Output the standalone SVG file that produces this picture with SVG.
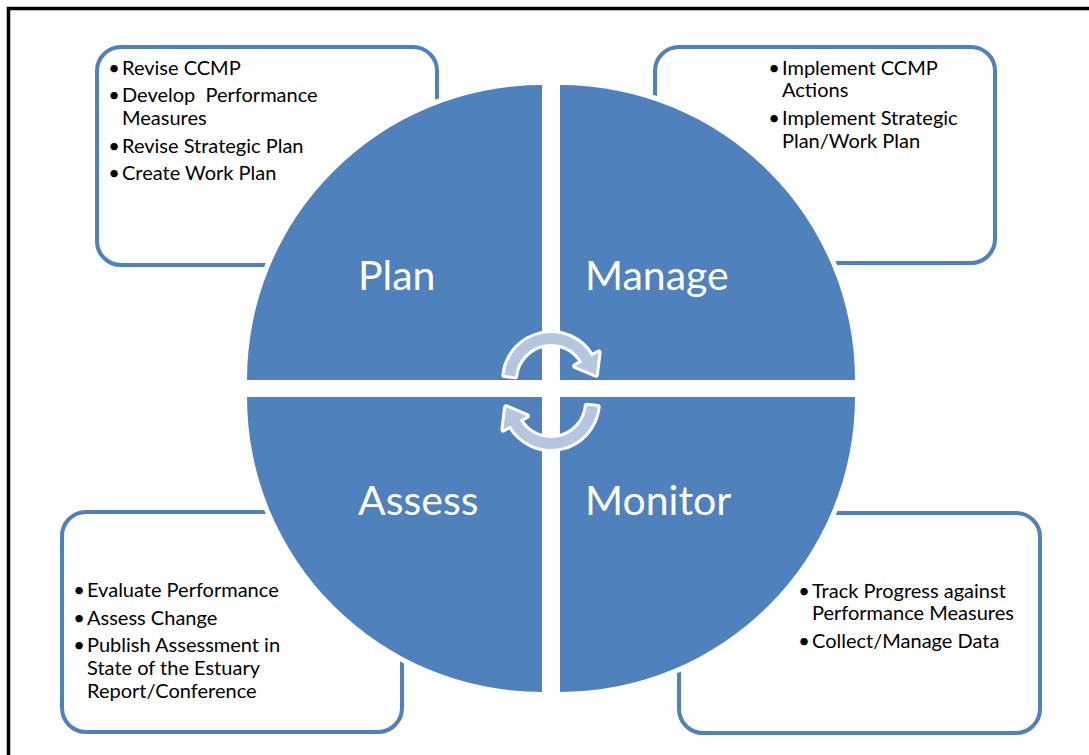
<svg xmlns="http://www.w3.org/2000/svg" width="1089" height="755" viewBox="0 0 1089 755">
<style>
.box{fill:#fff;stroke:#4F81BD;stroke-width:4}
.q{fill:#4F81BD;stroke:#fff;stroke-width:10;paint-order:stroke}
.t{font-family:Lato,"Open Sans",sans-serif;font-size:20px;fill:#000}
.b{font-family:Lato,"Open Sans",sans-serif;font-size:20px;fill:#000;text-anchor:middle}
.lbl{font-family:Lato,"Open Sans",sans-serif;font-size:41px;fill:#fff}
.arr{fill:#B7C6E0;stroke:#fff;stroke-width:6;stroke-linejoin:round;paint-order:stroke}
</style>
<rect x="0" y="0" width="1089" height="755" fill="#fff"/>
<rect x="8.5" y="8.5" width="1100" height="770" fill="none" stroke="#000" stroke-width="3.5"/>

<g id="box-plan">
<rect class="box" x="97" y="47" width="340" height="218" rx="24"/>
<text class="b" x="114" y="75">•</text><text class="t" x="122" y="75">Revise CCMP</text>
<text class="b" x="114" y="102">•</text><text class="t" x="122" y="102" xml:space="preserve">Develop  Performance</text>
<text class="t" x="122" y="125">Measures</text>
<text class="b" x="114" y="153">•</text><text class="t" x="122" y="153">Revise Strategic Plan</text>
<text class="b" x="114" y="180">•</text><text class="t" x="122" y="180">Create Work Plan</text>
</g>
<g id="box-manage">
<rect class="box" x="655" y="47" width="340" height="216" rx="24"/>
<text class="b" x="774" y="75">•</text><text class="t" x="782" y="75">Implement CCMP</text>
<text class="t" x="782" y="97">Actions</text>
<text class="b" x="774" y="125">•</text><text class="t" x="782" y="125">Implement Strategic</text>
<text class="t" x="782" y="148">Plan/Work Plan</text>
</g>
<g id="box-assess">
<rect class="box" x="62" y="512" width="340" height="220" rx="24"/>
<text class="b" x="79" y="597">•</text><text class="t" x="87" y="597">Evaluate Performance</text>
<text class="b" x="79" y="625">•</text><text class="t" x="87" y="625">Assess Change</text>
<text class="b" x="79" y="652">•</text><text class="t" x="87" y="652">Publish Assessment in</text>
<text class="t" x="87" y="675">State of the Estuary</text>
<text class="t" x="87" y="698">Report/Conference</text>
</g>
<g id="box-monitor">
<rect class="box" x="679" y="513" width="361" height="220" rx="24"/>
<text class="b" x="804" y="598">•</text><text class="t" x="812" y="598">Track Progress against</text>
<text class="t" x="812" y="620">Performance Measures</text>
<text class="b" x="804" y="648">•</text><text class="t" x="812" y="648">Collect/Manage Data</text>
</g>

<g id="plan">
<path class="q" d="M542,380 L247,380 A295,295 0 0 1 542,85 Z"/>
<text class="lbl" x="358" y="290">Plan</text>
</g>
<g id="manage">
<path class="q" d="M560,380 L560,85 A295,295 0 0 1 855,380 Z"/>
<text class="lbl" x="585" y="290">Manage</text>
</g>
<g id="monitor">
<path class="q" d="M560,397 L855,397 A295,295 0 0 1 560,692 Z"/>
<text class="lbl" x="585" y="515">Monitor</text>
</g>
<g id="assess">
<path class="q" d="M542,397 L542,692 A295,295 0 0 1 247,397 Z"/>
<text class="lbl" x="358" y="515">Assess</text>
</g>

<g id="connectors">
<path id="arrow-top" class="arr" d="M504.3,375.1 A47,47 0 0 1 591.7,356.5 L598.6,352.5 L595.9,374.8 L575.2,366 L582.2,362 A36,36 0 0 0 515.2,376.2 Z"/>
<path id="arrow-bottom" class="arr" transform="rotate(180 551 391)" d="M504.3,375.1 A47,47 0 0 1 591.7,356.5 L598.6,352.5 L595.9,374.8 L575.2,366 L582.2,362 A36,36 0 0 0 515.2,376.2 Z"/>
</g>
</svg>
